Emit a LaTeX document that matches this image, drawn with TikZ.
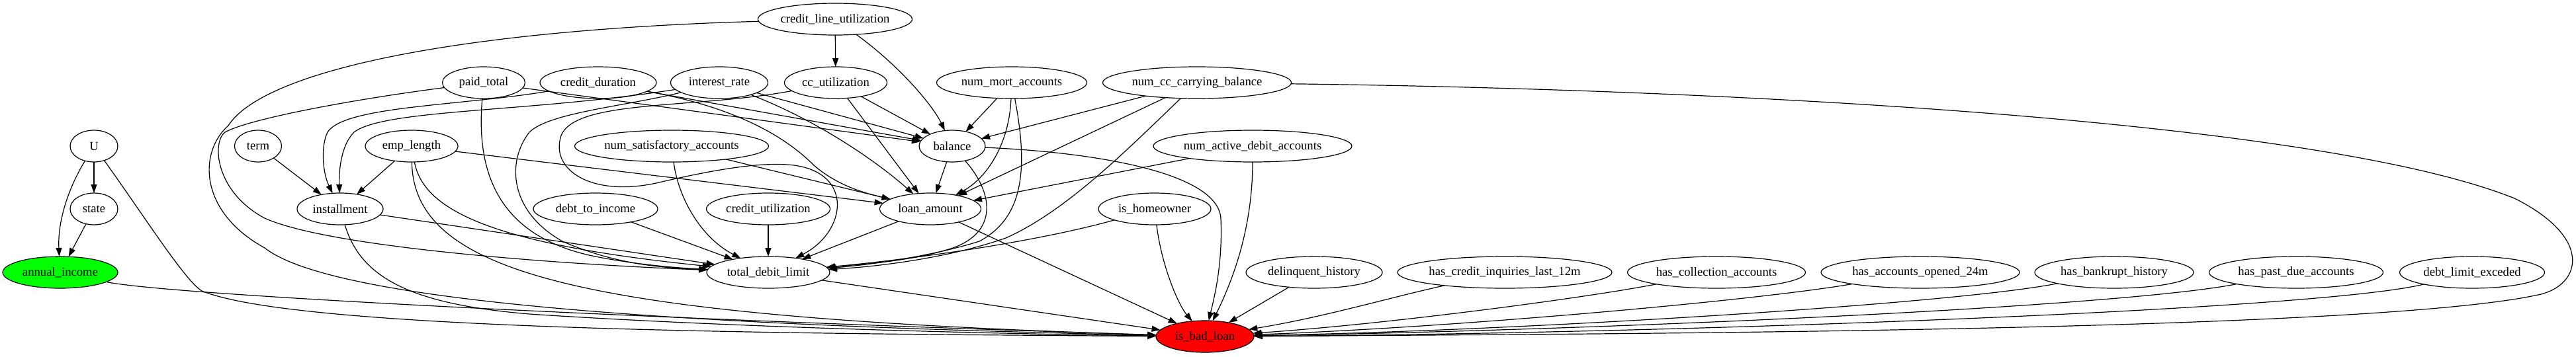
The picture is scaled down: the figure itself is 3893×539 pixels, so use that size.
\documentclass[tikz,border=0pt]{standalone}
\usepackage{fontspec}
\setmainfont{Liberation Serif}
\usetikzlibrary{shapes.geometric,arrows.meta}
\definecolor{gvgreen}{RGB}{0,255,0}
\definecolor{gvred}{RGB}{255,0,0}
\begin{document}
\begin{tikzpicture}[x=1pt,y=-1pt,
  nd/.style={draw, ellipse, line width=1.2pt, minimum height=48pt, inner sep=0pt, outer sep=0pt,
    font=\fontsize{18.67}{22}\selectfont},
  ed/.style={-{Triangle[length=13pt,width=9pt]}, line width=1.2pt}]
\useasboundingbox (0,0) rectangle (3893,539);
% row 0
\node[nd, minimum width=231pt] (clu) at (1262,29) {credit\_line\_utilization};
% row 1
\node[nd, minimum width=125pt] (pt) at (731,125) {paid\_total};
\node[nd, minimum width=176pt] (cd) at (904,125) {credit\_duration};
\node[nd, minimum width=147pt] (ir) at (1087,125) {interest\_rate};
\node[nd, minimum width=155pt] (cc) at (1263,125) {cc\_utilization};
\node[nd, minimum width=227pt] (nma) at (1529,125) {num\_mort\_accounts};
\node[nd, minimum width=285pt] (nccb) at (1809,125) {num\_cc\_carrying\_balance};
% row 2
\node[nd, minimum width=72pt] (U) at (142,221) {U};
\node[nd, minimum width=71pt] (term) at (390,221) {term};
\node[nd, minimum width=140pt] (emp) at (622,221) {emp\_length};
\node[nd, minimum width=293pt] (nsa) at (1015,221) {num\_satisfactory\_accounts};
\node[nd, minimum width=100pt] (bal) at (1439,221) {balance};
\node[nd, minimum width=300pt] (nada) at (1893,221) {num\_active\_debit\_accounts};
% row 3
\node[nd, minimum width=72pt] (state) at (142,316) {state};
\node[nd, minimum width=130pt] (inst) at (514,316) {installment};
\node[nd, minimum width=188pt] (dti) at (900,316) {debt\_to\_income};
\node[nd, minimum width=187pt] (cu) at (1161,316) {credit\_utilization};
\node[nd, minimum width=153pt] (la) at (1406,316) {loan\_amount};
\node[nd, minimum width=170pt] (ih) at (1745,316) {is\_homeowner};
% row 4
\node[nd, fill=gvgreen, minimum width=174pt] (ai) at (91,412) {annual\_income};
\node[nd, minimum width=186pt] (tdl) at (1161,412) {total\_debit\_limit};
\node[nd, minimum width=206pt] (dh) at (1986,412) {delinquent\_history};
\node[nd, minimum width=322pt] (hci) at (2274,412) {has\_credit\_inquiries\_last\_12m};
\node[nd, minimum width=269pt] (hca) at (2594,412) {has\_collection\_accounts};
\node[nd, minimum width=300pt] (hao) at (2902,412) {has\_accounts\_opened\_24m};
\node[nd, minimum width=240pt] (hbh) at (3195,412) {has\_bankrupt\_history};
\node[nd, minimum width=263pt] (hpd) at (3470,412) {has\_past\_due\_accounts};
\node[nd, minimum width=219pt] (dle) at (3736,412) {debt\_limit\_exceded};
% row 5
\node[nd, fill=gvred, minimum width=148pt] (bad) at (1821,509) {is\_bad\_loan};

% U cluster
\draw[ed] (U) -- (state);
\draw[ed] (U) .. controls (100,290) and (87,340) .. (ai);
\draw[ed] (state) -- (ai);
\draw[ed] (U) .. controls (220,330) and (280,425) .. (305,440) .. controls (450,500) and (1200,505) .. (bad);
\draw[ed] (ai) .. controls (250,445) and (900,480) .. (bad);
% term / emp_length / installment
\draw[ed] (term) -- (inst);
\draw[ed] (emp) -- (inst);
\draw[ed] (emp) -- (la);
\draw[ed] (emp) .. controls (640,320) and (750,370) .. (tdl);
\draw[ed] (emp) .. controls (625,420) and (900,480) .. (bad);
\draw[ed] (inst) -- (tdl);
\draw[ed] (inst) .. controls (545,420) and (620,460) .. (800,475) .. controls (1100,495) and (1500,505) .. (bad);
% paid_total
\draw[ed] (pt) .. controls (718,270) and (760,360) .. (900,388) .. controls (960,400) and (1020,405) .. (tdl);
\draw[ed] (pt) .. controls (550,148) and (380,178) .. (340,200) .. controls (320,215) and (325,290) .. (400,330) .. controls (500,375) and (850,400) .. (tdl);
\draw[ed] (pt) -- (bal);
% credit_line_utilization
\draw[ed] (clu) .. controls (700,45) and (400,105) .. (345,190) .. controls (300,230) and (300,320) .. (400,375) .. controls (520,470) and (1200,495) .. (bad);
\draw[ed] (clu) -- (cc);
\draw[ed] (clu) .. controls (1360,100) and (1410,160) .. (bal);
% credit_duration
\draw[ed] (cd) -- (bal);
\draw[ed] (cd) .. controls (1100,160) and (1180,200) .. (1230,250) .. controls (1270,285) and (1320,295) .. (la);
\draw[ed] (cd) .. controls (700,160) and (520,160) .. (495,200) .. controls (485,220) and (487,260) .. (inst);
% interest_rate
\draw[ed] (ir) -- (bal);
\draw[ed] (ir) .. controls (1230,180) and (1320,240) .. (la);
\draw[ed] (ir) .. controls (800,170) and (580,165) .. (535,200) .. controls (515,220) and (512,260) .. (inst);
\draw[ed] (ir) .. controls (950,160) and (830,170) .. (800,200) .. controls (765,245) and (770,320) .. (850,365) .. controls (930,400) and (1000,405) .. (tdl);
% cc_utilization
\draw[ed] (cc) -- (bal);
\draw[ed] (cc) -- (la);
\draw[ed] (cc) .. controls (1050,165) and (870,150) .. (848,205) .. controls (830,260) and (900,300) .. (1000,275) .. controls (1100,252) and (1160,245) .. (1200,250) .. controls (1290,262) and (1280,350) .. (tdl);
% num_mort_accounts
\draw[ed] (nma) -- (bal);
\draw[ed] (nma) .. controls (1525,220) and (1490,270) .. (la);
\draw[ed] (nma) .. controls (1555,260) and (1545,330) .. (1480,365) .. controls (1400,390) and (1300,402) .. (tdl);
% num_cc_carrying_balance
\draw[ed] (nccb) -- (bal);
\draw[ed] (nccb) -- (la);
\draw[ed] (nccb) .. controls (1700,230) and (1610,320) .. (1520,360) .. controls (1420,395) and (1300,405) .. (tdl);
\draw[ed] (nccb) .. controls (2600,135) and (3500,180) .. (3800,300) .. controls (3920,360) and (3900,430) .. (3840,445) .. controls (3600,500) and (2500,505) .. (bad);
% balance
\draw[ed] (bal) -- (la);
\draw[ed] (bal) .. controls (1500,290) and (1510,350) .. (1440,375) .. controls (1380,395) and (1300,400) .. (tdl);
\draw[ed] (bal) .. controls (1650,230) and (1840,260) .. (1845,330) .. controls (1848,400) and (1835,450) .. (bad);
% num_satisfactory_accounts
\draw[ed] (nsa) -- (la);
\draw[ed] (nsa) .. controls (1025,300) and (1060,360) .. (tdl);
% num_active_debit_accounts
\draw[ed] (nada) -- (la);
\draw[ed] (nada) .. controls (1893,350) and (1860,430) .. (bad);
% row 3
\draw[ed] (dti) -- (tdl);
\draw[ed] (cu) -- (tdl);
\draw[ed] (la) -- (tdl);
\draw[ed] (la) -- (bad);
\draw[ed] (ih) .. controls (1550,370) and (1350,395) .. (tdl);
\draw[ed] (ih) .. controls (1755,400) and (1780,460) .. (bad);
% row 4
\draw[ed] (tdl) -- (bad);
\draw[ed] (dh) -- (bad);
\draw[ed] (hci) .. controls (2100,450) and (2000,480) .. (bad);
\draw[ed] (hca) .. controls (2400,450) and (2100,490) .. (bad);
\draw[ed] (hao) .. controls (2650,455) and (2200,495) .. (bad);
\draw[ed] (hbh) .. controls (2950,460) and (2300,500) .. (bad);
\draw[ed] (hpd) .. controls (3200,465) and (2400,500) .. (bad);
\draw[ed] (dle) .. controls (3500,470) and (2500,505) .. (bad);
\end{tikzpicture}
\end{document}
